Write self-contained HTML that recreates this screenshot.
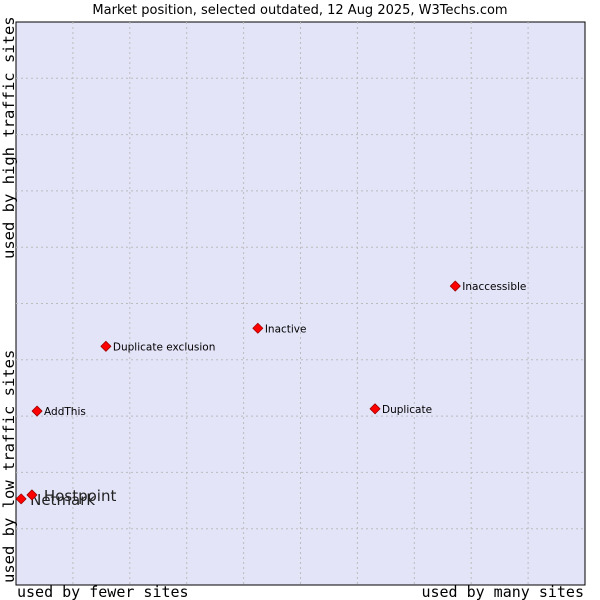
<!DOCTYPE html>
<html><head><meta charset="utf-8"><style>
body{margin:0;background:#fff;}
svg{display:block;font-family:"DejaVu Sans","Liberation Sans",sans-serif;}
</style></head><body>
<svg width="600" height="600">
<text x="300" y="14" text-anchor="middle" font-size="13" fill="#000">Market position, selected outdated, 12 Aug 2025, W3Techs.com</text>
<rect x="16" y="22" width="569" height="563" fill="#e3e4f8" stroke="#000" stroke-width="1"/>
<g id="grid"></g>
<g id="pts"></g>
<text x="17" y="597" font-family="DejaVu Sans Mono,monospace" font-size="15">used by fewer sites</text>
<text x="584" y="597" text-anchor="end" font-family="DejaVu Sans Mono,monospace" font-size="15">used by many sites</text>
<text transform="translate(14,583) rotate(-90)" font-family="DejaVu Sans Mono,monospace" font-size="15.5">used by low traffic sites</text>
<text transform="translate(14,259) rotate(-90)" font-family="DejaVu Sans Mono,monospace" font-size="15.5">used by high traffic sites</text>
</svg>
<script>
const names=["Netmark","Hostpoint","AddThis","Duplicate exclusion","Inactive","Duplicate","Inaccessible"];
const xs=[0.9,2.8,3.7,15.8,42.5,63.1,77.2];
const ys=[15.3,16.0,30.9,42.4,45.6,31.3,53.1];
const big=[true,true,false,false,false,false,false];
const X0=16,X1=585,Y0=585,Y1=22;
const sx=v=>X0+(X1-X0)*v/100, sy=v=>Y0-(Y0-Y1)*v/100;
const NS="http://www.w3.org/2000/svg";
const g=document.getElementById('grid');
for(let i=1;i<10;i++){
 const a=document.createElementNS(NS,'line');
 
 
 a.setAttribute('x1',sx(i*10));a.setAttribute('x2',sx(i*10));a.setAttribute('y1',Y1);a.setAttribute('y2',Y0);
 a.setAttribute('stroke','#bcbcbc');a.setAttribute('stroke-dasharray','2,3');g.appendChild(a);
 const b=document.createElementNS(NS,'line');
 
 
 b.setAttribute('y1',sy(i*10));b.setAttribute('y2',sy(i*10));b.setAttribute('x1',X0);b.setAttribute('x2',X1);
 b.setAttribute('stroke','#bcbcbc');b.setAttribute('stroke-dasharray','2,3');g.appendChild(b);
}
const p=document.getElementById('pts');
names.forEach((n,i)=>{
 const x=sx(xs[i]),y=sy(ys[i]);
 const d=document.createElementNS(NS,'polygon');
 
 
 d.setAttribute('points',`${x},${y-5} ${x+5},${y} ${x},${y+5} ${x-5},${y}`);
 d.setAttribute('fill','#ff0000');d.setAttribute('stroke','#a00000');d.setAttribute('stroke-width','0.8');d.setAttribute('stroke-linejoin','round');
 p.appendChild(d);
 const t=document.createElementNS(NS,'text');
 
 
 t.setAttribute('x',x+(big[i]?(i===1?12:9):7));t.setAttribute('y',y+(big[i]?6:4));
 t.setAttribute('font-size',big[i]?'15':'10.5');t.setAttribute('fill',big[i]?'#222':'#000');
 t.textContent=n;p.appendChild(t);
});
</script>
</body></html>
